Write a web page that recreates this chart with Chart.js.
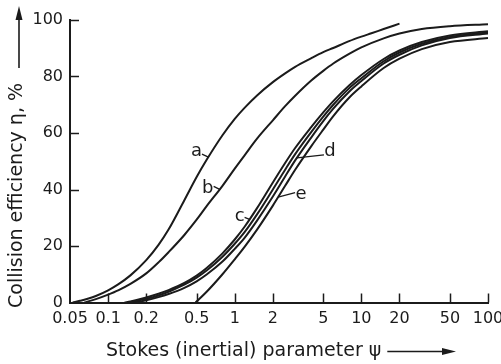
<!DOCTYPE html>
<html>
<head>
<meta charset="utf-8">
<title>Collision efficiency</title>
<script src="https://cdn.jsdelivr.net/npm/chart.js@4.4.1/dist/chart.umd.min.js"></script>
<style>
  html, body { margin: 0; padding: 0; background: #fff; }
  canvas { display: block; }
</style>
</head>
<body>
<canvas id="collisionChart" width="501" height="364"></canvas>
<script>
const INK = "#1b1b1b";
const FONT = "'DejaVu Sans', sans-serif";

// axis ticks
const psiTicks = [0.05, 0.1, 0.2, 0.5, 1, 2, 5, 10, 20, 50, 100];
const etaTicks = [0, 20, 40, 60, 80, 100];

// curve a
const aPsi = [0.0525, 0.06, 0.07, 0.08, 0.1, 0.12, 0.15, 0.2, 0.25, 0.3, 0.4, 0.5, 0.6, 0.8, 1, 1.2, 1.5, 2, 2.5, 3, 4, 5, 6, 8, 10, 12, 15, 20];
const aEta = [0, 0.6, 1.4, 2.3, 4.3, 6.4, 9.6, 15, 20.4, 25.8, 36.2, 44.4, 50.5, 59.2, 65, 69, 73.3, 78, 81.1, 83.4, 86.4, 88.6, 90.1, 92.5, 94.1, 95.3, 96.8, 98.7];

// curve b
const bPsi = [0.065, 0.08, 0.1, 0.12, 0.15, 0.2, 0.25, 0.3, 0.4, 0.5, 0.6, 0.8, 1, 1.2, 1.5, 2, 2.5, 3, 4, 5, 6, 8, 10, 15, 20, 30, 50, 100];
const bEta = [0, 1.2, 2.8, 4.3, 6.6, 10.3, 14.2, 17.8, 23.9, 29.3, 34.1, 41.3, 47.4, 52.2, 58, 64.5, 69.5, 73.2, 78.5, 82, 84.6, 88, 90.3, 93.5, 95.2, 96.8, 97.8, 98.5];

// curve c
const cPsi = [0.135, 0.15, 0.2, 0.25, 0.3, 0.4, 0.5, 0.6, 0.8, 1, 1.2, 1.5, 2, 2.5, 3, 4, 5, 6, 8, 10, 15, 20, 30, 50, 100];
const cEta = [0, 0.4, 1.8, 3.1, 4.4, 6.9, 9.5, 12.2, 17.4, 22.3, 26.9, 33.4, 42.5, 49.4, 54.7, 62, 67.3, 71.3, 76.8, 80.5, 86.2, 89.2, 92.2, 94.5, 96];

// unlabelled curve between c and d
const c2Psi = [0.145, 0.2, 0.25, 0.3, 0.4, 0.5, 0.6, 0.8, 1, 1.2, 1.5, 2, 2.5, 3, 4, 5, 6, 8, 10, 15, 20, 30, 50, 100];
const c2Eta = [0, 1.3, 2.5, 3.8, 6.3, 8.8, 11.3, 16.2, 20.8, 25, 31.2, 40, 47, 52.5, 60.2, 65.8, 70, 75.8, 79.4, 85.4, 88.5, 91.6, 94, 95.6];

// curve d
const dPsi = [0.16, 0.2, 0.25, 0.3, 0.4, 0.5, 0.6, 0.8, 1, 1.2, 1.5, 2, 2.5, 3, 4, 5, 6, 8, 10, 15, 20, 30, 50, 100];
const dEta = [0, 0.8, 1.9, 3, 5.2, 7.5, 9.9, 14.5, 19, 23, 29, 37.5, 44.6, 50.3, 58.3, 64.2, 68.6, 74.6, 78.4, 84.6, 87.7, 91, 93.6, 95.2];

// curve e
const ePsi = [0.49, 0.6, 0.8, 1, 1.2, 1.5, 2, 2.5, 3, 4, 5, 6, 8, 10, 15, 20, 30, 50, 100];
const eEta = [0, 3.8, 10, 15.3, 19.8, 25.8, 34.3, 41.3, 47, 55.2, 61.2, 66, 72.5, 76.5, 83, 86.3, 89.7, 92.2, 93.6];

// where each letter is attached to its curve (Stokes parameter)
const labelNames = ["a", "b", "c", "d", "e"];
const labelPsi = [0.62, 0.76, 1.31, 3.1, 2.2];

const curves = {
  a: [aPsi, aEta],
  b: [bPsi, bEta],
  c: [cPsi, cEta],
  c2: [c2Psi, c2Eta],
  d: [dPsi, dEta],
  e: [ePsi, eEta],
};

// pixel offsets of the leader start and the letter from the attach point
const labelOffsets = {
  a: { tick: [-6.5, -3], text: [-12, -6] },
  b: { tick: [-6, -3], text: [-12, -1] },
  c: { tick: [-5, -2], text: [-10, -2.5] },
  d: { tick: [27, -3], text: [33, -6] },
  e: { tick: [17, -4.5], text: [23, -2.5] },
};

function etaAt(xs, ys, psi) {
  const lp = Math.log10(psi);
  for (let i = 1; i < xs.length; i++) {
    if (psi <= xs[i]) {
      const l0 = Math.log10(xs[i - 1]), l1 = Math.log10(xs[i]);
      return ys[i - 1] + (ys[i] - ys[i - 1]) * (lp - l0) / (l1 - l0);
    }
  }
  return ys[ys.length - 1];
}

const datasets = Object.keys(curves).map((key) => {
  const [xs, ys] = curves[key];
  return {
    label: key,
    data: xs.map((x, i) => ({ x: x, y: ys[i] })),
    borderColor: INK,
    borderWidth: 2,
    pointRadius: 0,
    fill: false,
    cubicInterpolationMode: "monotone",
  };
});

function arrowHead(ctx, x, y, dir) {
  // dir: "up" or "right"
  ctx.beginPath();
  if (dir === "up") {
    ctx.moveTo(x, y);
    ctx.lineTo(x - 3.5, y + 14);
    ctx.lineTo(x + 3.5, y + 14);
  } else {
    ctx.moveTo(x, y);
    ctx.lineTo(x - 14, y - 3.5);
    ctx.lineTo(x - 14, y + 3.5);
  }
  ctx.closePath();
  ctx.fill();
}

const decorations = {
  id: "decorations",
  afterDatasetsDraw(chart) {
    const { ctx, chartArea, scales } = chart;
    const x = scales.x, y = scales.y;
    ctx.save();
    ctx.strokeStyle = INK;
    ctx.fillStyle = INK;
    ctx.lineWidth = 1.5;

    // inward tick marks
    psiTicks.slice(1).forEach((v) => {
      const px = Math.round(x.getPixelForValue(v)) + 0.5;
      ctx.beginPath();
      ctx.moveTo(px, chartArea.bottom);
      ctx.lineTo(px, chartArea.bottom - 9);
      ctx.stroke();
    });
    etaTicks.slice(1).forEach((v) => {
      const py = Math.round(y.getPixelForValue(v)) + 0.5;
      ctx.beginPath();
      ctx.moveTo(chartArea.left, py);
      ctx.lineTo(chartArea.left + 9, py);
      ctx.stroke();
    });

    // curve letters with leader lines
    ctx.font = "18px " + FONT;
    ctx.textAlign = "center";
    ctx.textBaseline = "middle";
    ctx.lineWidth = 1.3;
    labelNames.forEach((name, i) => {
      const [xs, ys] = curves[name];
      const psi = labelPsi[i];
      const ax = x.getPixelForValue(psi);
      const ay = y.getPixelForValue(etaAt(xs, ys, psi));
      const off = labelOffsets[name];
      ctx.beginPath();
      ctx.moveTo(ax + off.tick[0], ay + off.tick[1]);
      ctx.lineTo(ax, ay);
      ctx.stroke();
      ctx.fillText(name, ax + off.text[0], ay + off.text[1]);
    });

    // axis titles with arrows
    ctx.font = "19px " + FONT;
    ctx.textAlign = "left";
    ctx.textBaseline = "alphabetic";
    ctx.lineWidth = 1.6;

    const xTitle = "Stokes (inertial) parameter \u03C8";
    ctx.fillText(xTitle, 106, 355.5);
    const xEnd = 106 + ctx.measureText(xTitle).width + 6;
    ctx.beginPath();
    ctx.moveTo(xEnd, 351.5);
    ctx.lineTo(444, 351.5);
    ctx.stroke();
    arrowHead(ctx, 456, 351.5, "right");

    const yTitle = "Collision efficiency \u03B7, %";
    ctx.save();
    ctx.translate(22, 308);
    ctx.rotate(-Math.PI / 2);
    ctx.fillText(yTitle, 0, 0);
    ctx.restore();
    ctx.beginPath();
    ctx.moveTo(19, 68);
    ctx.lineTo(19, 18);
    ctx.stroke();
    arrowHead(ctx, 19, 6, "up");

    ctx.restore();
  },
};

new Chart(document.getElementById("collisionChart").getContext("2d"), {
  type: "line",
  data: { datasets: datasets },
  options: {
    responsive: false,
    animation: false,
    layout: { padding: { left: 0, top: 20, right: 13, bottom: 0 } },
    plugins: { legend: { display: false }, tooltip: { enabled: false } },
    scales: {
      x: {
        type: "logarithmic",
        min: 0.05,
        max: 100,
        afterBuildTicks: (scale) => {
          scale.ticks = psiTicks.map((v) => ({ value: v }));
        },
        afterFit: (scale) => {
          scale.height = 61.5;
          scale.paddingLeft = 0;
          scale.paddingRight = 0;
        },
        grid: { display: false, drawTicks: false },
        border: { display: true, color: INK, width: 2 },
        ticks: {
          autoSkip: false,
          maxRotation: 0,
          padding: 7,
          color: INK,
          font: { family: FONT, size: 16 },
          callback: (v) => String(v),
        },
      },
      y: {
        type: "linear",
        min: 0,
        max: 100,
        afterBuildTicks: (scale) => {
          scale.ticks = etaTicks.map((v) => ({ value: v }));
        },
        afterFit: (scale) => {
          scale.width = 70;
        },
        grid: { display: false, drawTicks: false },
        border: { display: true, color: INK, width: 2 },
        ticks: {
          padding: 7,
          color: INK,
          font: { family: FONT, size: 16 },
        },
      },
    },
  },
  plugins: [decorations],
});
</script>
</body>
</html>
